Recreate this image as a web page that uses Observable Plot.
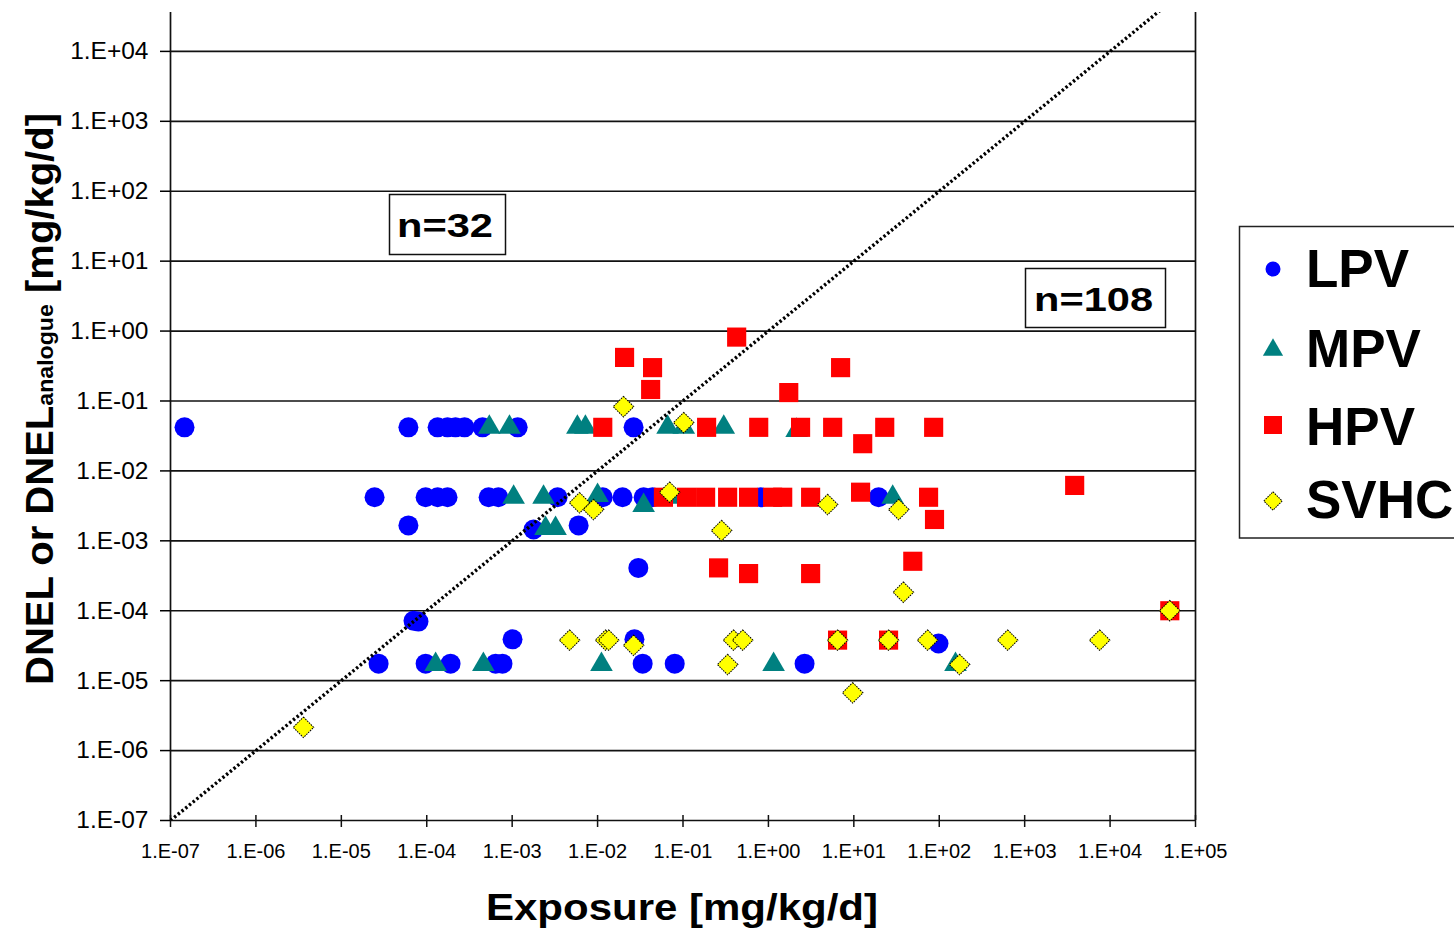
<!DOCTYPE html>
<html><head><meta charset="utf-8">
<script src="https://cdn.jsdelivr.net/npm/d3@7"></script>
<script src="https://cdn.jsdelivr.net/npm/@observablehq/plot@0.6"></script>
<style>
html,body{margin:0;padding:0;background:#fff;}
#chart{position:relative;width:1454px;height:933px;overflow:hidden;}
</style></head><body><div id="chart"></div>
<script>
// ---- axes ----
const xTicks = [1e-7,1e-6,1e-5,1e-4,1e-3,1e-2,1e-1,1e0,1e1,1e2,1e3,1e4,1e5];
const xTickLabels = ["1.E-07","1.E-06","1.E-05","1.E-04","1.E-03","1.E-02","1.E-01","1.E+00","1.E+01","1.E+02","1.E+03","1.E+04","1.E+05"];
const yTicks = [1e-7,1e-6,1e-5,1e-4,1e-3,1e-2,1e-1,1e0,1e1,1e2,1e3,1e4];
const yTickLabels = ["1.E-07","1.E-06","1.E-05","1.E-04","1.E-03","1.E-02","1.E-01","1.E+00","1.E+01","1.E+02","1.E+03","1.E+04"];
const xDomain = [1e-7, 1e5];
const yDomain = [1e-7, 3.6e4];
const diagonal = [1e-7, 1e5];           // line of equality DNEL = exposure
const seriesNames = ["LPV","MPV","HPV","SVHC"];
const countLabels = ["n=32","n=108"];

// ---- data: [exposure, DNEL] ----
const lpv = [[1.46e-7,0.042],[6.1e-5,0.042],[1.34e-4,0.042],[1.75e-4,0.042],[2.17e-4,0.042],[2.77e-4,0.042],[4.5e-4,0.042],[1.16e-3,0.042],[0.0264,0.042],
[2.45e-5,0.0042],[9.7e-5,0.0042],[1.34e-4,0.0042],[1.75e-4,0.0042],[5.3e-4,0.0042],[6.9e-4,0.0042],[3.4e-3,0.0042],[0.0115,0.0042],[0.0196,0.0042],[0.0346,0.0042],[0.044,0.0042],[0.81,0.0042],[19.5,0.0042],
[6.1e-5,0.00166],[6.0e-3,0.00166],[1.78e-3,1.45e-3],
[7.0e-5,7.2e-5],[8.0e-5,7.0e-5],
[2.73e-5,1.75e-5],[9.7e-5,1.75e-5],[1.9e-4,1.75e-5],[6.4e-4,1.75e-5],[7.7e-4,1.75e-5],[1.01e-3,3.9e-5],
[0.030,4.1e-4],[0.027,3.9e-5],[0.0337,1.75e-5],[0.080,1.75e-5],[2.65,1.75e-5],[98,3.4e-5]];

const mpv = [[5.4e-4,0.042],[9.3e-4,0.042],[5.8e-3,0.042],[7.2e-3,0.042],[0.066,0.042],[0.102,0.042],[0.30,0.042],[2.14,0.038],
[1.04e-3,0.0042],[2.33e-3,0.0042],[0.010,0.00445],[0.0346,0.0032],[0.0716,0.0042],[28.5,0.0042],
[2.46e-3,1.5e-3],[3.22e-3,1.5e-3],
[1.27e-4,1.7e-5],[4.6e-4,1.7e-5],[0.0111,1.7e-5],[1.15,1.7e-5],[155,1.7e-5]];

const hpv = [[0.425,0.82],[0.0207,0.42],[0.044,0.30],[0.0418,0.146],[1.73,0.132],[7.0,0.30],
[0.0115,0.042],[0.189,0.042],[0.77,0.042],[2.38,0.042],[5.65,0.042],[12.7,0.0245],[23,0.042],[86,0.042],
[0.059,0.0042],[0.110,0.0042],[0.184,0.0042],[0.333,0.0042],[0.586,0.0042],[1.12,0.0042],[1.47,0.0042],[3.12,0.0042],[12.0,0.00496],[75,0.0042],[88,0.00202],[3850,0.0062],
[49,5.1e-4],[0.261,4.1e-4],[0.586,3.4e-4],[3.12,3.4e-4],
[6.45,3.8e-5],[25.5,3.8e-5],[5e4,1e-4]];

const svhc = [[3.6e-6,2.15e-6],[0.0201,0.083],[0.102,0.049],[6.15e-3,0.0035],[8.97e-3,0.0028],[0.0697,0.00496],[4.93,0.0033],[33.5,0.0028],[0.283,0.0014],[38,1.84e-4],
[4.7e-3,3.8e-5],[0.0124,3.8e-5],[0.0135,3.8e-5],[0.0264,3.2e-5],[0.39,3.8e-5],[0.50,3.8e-5],[0.333,1.7e-5],[6.45,3.8e-5],[25.5,3.8e-5],[9.7,6.7e-6],[73,3.8e-5],[632,3.8e-5],[7550,3.8e-5],[173,1.7e-5],[5e4,1e-4]];

// ---- styles ----
const colors = {LPV:"#0000FF", MPV:"#008080", HPV:"#FF0000", SVHC:"#FFFF00"};
const FONT = "'Liberation Sans', Arial, Helvetica, sans-serif";
const X = d => d[0], Y = d => d[1];

const plot = Plot.plot({
  width: 1454, height: 933,
  marginLeft: 170, marginRight: 259, marginTop: 12, marginBottom: 113,
  x: {type: "log", domain: xDomain},
  y: {type: "log", domain: yDomain},
  style: {background: "white", fontFamily: FONT, color: "#000", overflow: "visible"},
  marks: [
    Plot.ruleY(yTicks, {stroke: "#111", strokeWidth: 1.7}),
    Plot.ruleX(xDomain, {stroke: "#111", strokeWidth: 1.7}),
    Plot.ruleX(xTicks, {y1: () => yDomain[0], y2: () => yDomain[0], insetTop: -5, insetBottom: -7, stroke: "#111", strokeWidth: 1.5}),
    Plot.axisY({ticks: yTicks, tickFormat: d => yTickLabels[yTicks.indexOf(d)], tickSize: 10, tickPadding: 12, fontSize: 24.5, label: null, strokeWidth: 1.5}),
    Plot.axisX({ticks: xTicks, tickFormat: d => xTickLabels[xTicks.indexOf(d)], tickSize: 0, tickPadding: 23, fontSize: 20, label: null}),
    Plot.dot(lpv, {x: X, y: Y, symbol: "circle", r: 10, fill: colors.LPV}),
    Plot.dot(mpv, {x: X, y: Y, symbol: "triangle", r: 8.4, fill: colors.MPV}),
    Plot.dot(hpv, {x: X, y: Y, symbol: "square", r: 10.8, fill: colors.HPV}),
    Plot.dot(svhc, {x: X, y: Y, symbol: "square", rotate: 45, r: 8.2, fill: colors.SVHC, stroke: "#000", strokeWidth: 1, strokeDasharray: "1.6 1"}),
    Plot.line(diagonal, {x: d => d, y: d => d, clip: true, stroke: "#000", strokeWidth: 3.4, strokeLinecap: "butt", strokeDasharray: "2.4 2.4"})
  ]
});

document.getElementById("chart").appendChild(plot);
const svg = d3.select(plot);

// axis titles
svg.append("text").attr("x", 486).attr("y", 920).attr("text-anchor", "start").attr("font-family", FONT).attr("font-weight", "bold")
  .attr("font-size", 36).attr("textLength", 392).attr("lengthAdjust", "spacingAndGlyphs").attr("fill", "#000")
  .text("Exposure [mg/kg/d]");

const yt = svg.append("text").attr("transform", "translate(53,685) rotate(-90)").attr("text-anchor", "start").attr("font-family", FONT)
  .attr("font-weight", "bold").attr("font-size", 38).attr("fill", "#000")
  .attr("textLength", 572).attr("lengthAdjust", "spacingAndGlyphs");
yt.append("tspan").text("DNEL or DNEL");
yt.append("tspan").attr("font-size", 22).text("analogue");
yt.append("tspan").text(" [mg/kg/d]");

// count boxes
const boxes = [
  {label: countLabels[0], rx: 389.5, ry: 194.5, rw: 116, rh: 60, tx: 397, ty: 237, tl: 96},
  {label: countLabels[1], rx: 1025.5, ry: 268.5, rw: 140, rh: 59, tx: 1034, ty: 311, tl: 119}
];
for (const b of boxes) {
  svg.append("rect").attr("x", b.rx).attr("y", b.ry).attr("width", b.rw).attr("height", b.rh)
    .attr("fill", "white").attr("stroke", "#111").attr("stroke-width", 1.5);
  svg.append("text").attr("x", b.tx).attr("y", b.ty).attr("text-anchor", "start").attr("font-family", FONT).attr("font-weight", "bold")
    .attr("font-size", 34).attr("textLength", b.tl).attr("lengthAdjust", "spacingAndGlyphs").attr("fill", "#000").text(b.label);
}

// legend
const lg = svg.append("g");
lg.append("rect").attr("x", 1239.5).attr("y", 226.5).attr("width", 240).attr("height", 311.5)
  .attr("fill", "white").attr("stroke", "#222").attr("stroke-width", 1.5);
const legendRows = [
  {name: seriesNames[0], my: 269, ty: 287, sym: d3.symbolCircle, size: Math.PI*7.5*7.5, rot: 0, stroke: "none"},
  {name: seriesNames[1], my: 350, ty: 367, sym: d3.symbolTriangle, size: Math.PI*7.5*7.5, rot: 0, stroke: "none"},
  {name: seriesNames[2], my: 425, ty: 445, sym: d3.symbolSquare, size: 18*18, rot: 0, stroke: "none"},
  {name: seriesNames[3], my: 501, ty: 518, sym: d3.symbolSquare, size: 13*13, rot: 45, stroke: "#000"}
];
for (const r of legendRows) {
  lg.append("path").attr("d", d3.symbol(r.sym, r.size)())
    .attr("transform", `translate(1273,${r.my}) rotate(${r.rot})`)
    .attr("fill", colors[r.name]).attr("stroke", r.stroke).attr("stroke-width", 1).attr("stroke-dasharray", r.stroke === "none" ? null : "1.6 1");
  lg.append("text").attr("x", 1306).attr("y", r.ty).attr("text-anchor", "start").attr("font-family", FONT).attr("font-weight", "bold")
    .attr("font-size", 53).attr("fill", "#000").text(r.name);
}
</script>
</body></html>
